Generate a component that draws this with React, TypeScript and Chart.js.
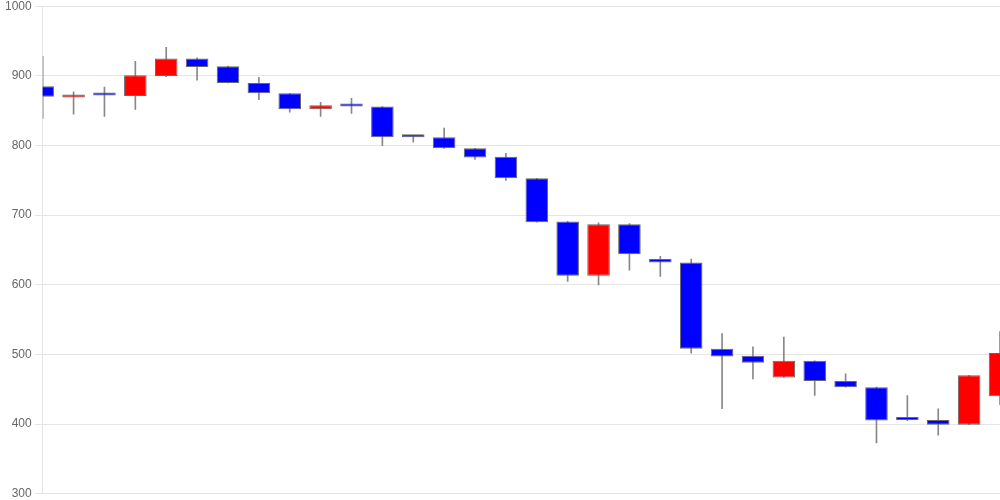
import { useEffect, useRef } from "react";
import { Chart, registerables } from "chart.js";

Chart.register(...registerables);

const labels = Array.from({ length: 32 }, (_, i) => String(i + 1));
const opens = [885, 869, 872, 871, 900, 925, 914, 890, 875, 852, 859, 856, 813, 812, 796, 784, 753, 691, 613, 687, 637, 632, 508, 498, 467, 491, 462, 453, 406, 406, 399, 440];
const closes = [870, 872, 872, 901, 925, 913, 890, 875, 852, 858, 856, 812, 812, 796, 783, 753, 690, 613, 687, 644, 632, 508, 497, 488, 491, 462, 453, 405, 406, 399, 470, 502];
const highs = [928, 877, 884, 921, 941, 926, 914, 898, 875, 862, 868, 856, 813, 825, 796, 789, 753, 691, 689, 688, 641, 637, 530, 511, 525, 491, 472, 453, 441, 422, 470, 533];
const lows = [839, 845, 842, 852, 899, 894, 890, 866, 848, 842, 846, 800, 805, 796, 780, 750, 690, 605, 600, 621, 612, 502, 422, 465, 467, 441, 453, 373, 405, 384, 399, 428];

const UP = "#ff0000";
const DOWN = "#0000ff";

export default function App() {
  const ref = useRef<HTMLCanvasElement | null>(null);
  useEffect(() => {
    document.body.style.margin = "0";
    if (!ref.current) return;
    const colors = opens.map((o, i) => (closes[i] > o ? UP : DOWN));
    const chart = new Chart(ref.current, {
      type: "bar",
      data: {
        labels,
        datasets: [
          {
            label: "body",
            data: opens.map((o, i) => [o, closes[i]]),
            backgroundColor: colors,
            borderColor: "#666",
            borderWidth: 1,
            borderSkipped: false,
            minBarLength: 3,
            categoryPercentage: 1,
            barPercentage: 0.73,
            grouped: false,
          },
          {
            label: "wick",
            data: lows.map((l, i) => [l, highs[i]]),
            backgroundColor: "#888",
            borderWidth: 0,
            barThickness: 1,
            grouped: false,
          },
        ],
      },
      options: {
        responsive: false,
        animation: false,
        devicePixelRatio: 1,
        layout: { padding: { left: 2, top: 0, bottom: 0 } },
        plugins: { legend: { display: false }, tooltip: { enabled: false } },
        scales: {
          x: { display: false, offset: false, grid: { display: false } },
          y: {
            min: 300,
            max: 1000,
            ticks: {
              stepSize: 100,
              color: "#666",
              font: { size: 12, lineHeight: 0.55 },
              callback: (v: any) => String(v),
            },
          },
        },
      },
    });
    return () => chart.destroy();
  }, []);
  return (
    <div style={{ position: "absolute", left: 0, top: 0, width: 1000, height: 500 }}>
      <canvas ref={ref} width={1000} height={500} />
    </div>
  );
}
